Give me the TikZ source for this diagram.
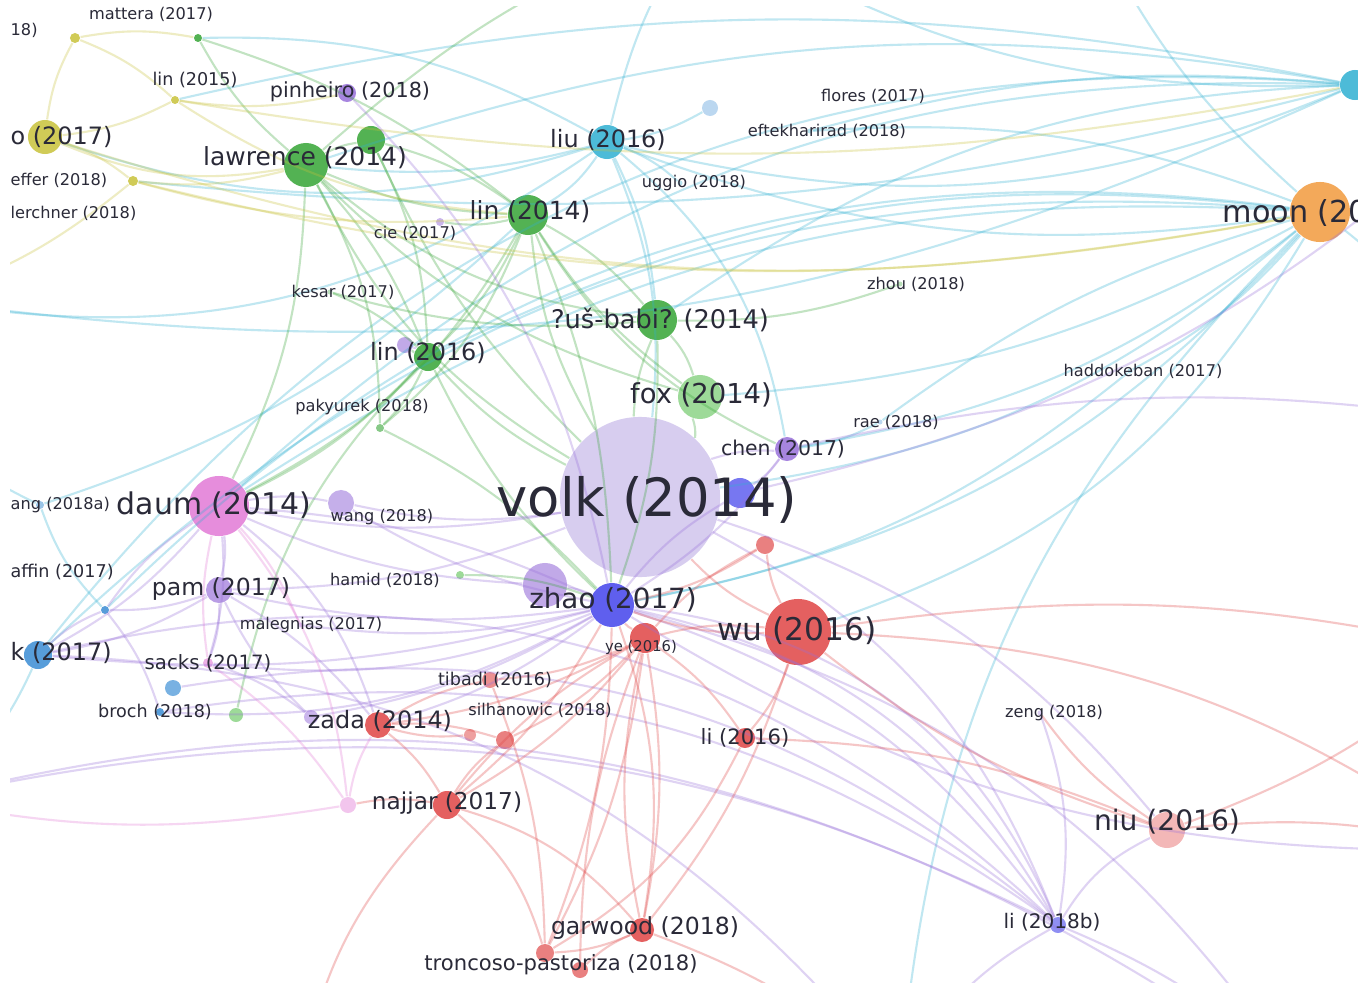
\documentclass[tikz,border=0pt]{standalone}
\usepackage{fontspec}
\setmainfont{DejaVu Sans}
\usepackage{xcolor}
\definecolor{clgreen}{HTML}{36A536}
\definecolor{cllgreen}{HTML}{8CD486}
\definecolor{clcyan}{HTML}{2FB0D2}
\definecolor{clpurple}{HTML}{9870DA}
\definecolor{cllav}{HTML}{C8BAEA}
\definecolor{clblue}{HTML}{4444EC}
\definecolor{clred}{HTML}{E04545}
\definecolor{clpink}{HTML}{E27AD6}
\definecolor{clyellow}{HTML}{C8C23A}
\definecolor{clorange}{HTML}{F29A3E}
\definecolor{clsky}{HTML}{3A8DD4}
\definecolor{txt}{HTML}{2A2A38}
\tikzset{
  dot/.style={circle, inner sep=0pt, fill=#1, fill opacity=0.85},
  lbl/.style={inner sep=0pt, text=txt, font=\fontsize{#1}{#1}\selectfont},
  lbl/.default=4.6,
  link/.style={#1, line width=0.6pt, opacity=0.3},
}

\begin{document}
\begin{tikzpicture}[x=0.01cm, y=-0.01cm]
\useasboundingbox (0,0) rectangle (1358,982);
\fill[white] (0,0) rectangle (1358,982);
\clip (10,7) rectangle (1358,982);

% ===== papers (circles) =====
\node[dot=cllav, minimum size=16mm, fill opacity=0.72] (volk) at (640,497) {};
\node[dot=clpurple!70, minimum size=4.4mm] (zhaop) at (545,585) {};
\node[dot=clblue, minimum size=4.4mm] (zhao) at (612,605) {};
\node[dot=clblue!85, minimum size=3mm] (chenb) at (740,493) {};
\node[dot=clred!80, minimum size=1.8mm] (reda) at (765,545) {};
\node[dot=clred, minimum size=3mm] (ye) at (645,638) {};
\node[dot=clred, minimum size=6.6mm] (wu) at (798,632) {};
\node[dot=clpink, minimum size=6mm] (daum) at (219,506) {};
\node[dot=clpurple!65, minimum size=2.6mm] (wang) at (341,503) {};
\node[dot=clpurple, minimum size=2.4mm] (chen) at (787,449) {};
\node[dot=cllgreen, minimum size=4.4mm] (fox) at (700,397) {};
\node[dot=clgreen, minimum size=4mm] (babic) at (657,320) {};
\node[dot=clgreen, minimum size=4mm] (linb) at (528,215) {};
\node[dot=clcyan, minimum size=3.4mm] (liu) at (607,142) {};
\node[dot=clgreen, minimum size=4.4mm] (lawrence) at (306,165) {};
\node[dot=clgreen, minimum size=2.8mm] (greenb) at (371,140) {};
\node[dot=clpurple, minimum size=1.8mm] (pinheiro) at (347,93) {};
\node[dot=clyellow, minimum size=0.8mm] (linc) at (175,100) {};
\node[dot=clgreen, minimum size=0.8mm] (mattera) at (198,38) {};
\node[dot=clyellow, minimum size=1mm] (yelt) at (75,38) {};
\node[dot=clyellow, minimum size=3.4mm] (ofive) at (45,137) {};
\node[dot=clyellow, minimum size=1mm] (effer) at (133,181) {};
\node[dot=clpurple!60, minimum size=0.8mm] (cie) at (440,222) {};
\node[dot=clsky!40, minimum size=1.6mm] (flores) at (710,108) {};
\node[dot=clgreen, minimum size=2.8mm] (lind) at (428,357) {};
\node[dot=clpurple!70, minimum size=1.6mm] (purl) at (405,345) {};
\node[dot=clgreen!70, minimum size=0.8mm] (pakyurek) at (380,428) {};
\node[dot=clpurple!80, minimum size=2.6mm] (pam) at (219,590) {};
\node[dot=cllgreen, minimum size=0.8mm] (hamid) at (460,575) {};
\node[dot=clsky, minimum size=2.8mm] (kseven) at (38,655) {};
\node[dot=clsky, minimum size=0.8mm] (hubl) at (105,610) {};
\node[dot=clpink!70, minimum size=1mm] (sacks) at (208,663) {};
\node[dot=clsky!80, minimum size=1.6mm] (sacksb) at (173,688) {};
\node[dot=clsky, minimum size=0.8mm] (broch) at (160,712) {};
\node[dot=cllgreen, minimum size=1.4mm] (brochg) at (236,715) {};
\node[dot=clred, minimum size=2.6mm] (zada) at (378,725) {};
\node[dot=clpurple!60, minimum size=1.4mm] (zadap) at (311,717) {};
\node[dot=clred!70, minimum size=1.6mm] (tibadi) at (490,680) {};
\node[dot=clred!80, minimum size=1.8mm] (silh) at (505,740) {};
\node[dot=clred!60, minimum size=1.2mm] (silhb) at (470,735) {};
\node[dot=clred, minimum size=2mm] (lis) at (745,738) {};
\node[dot=clred, minimum size=2.8mm] (najjar) at (447,805) {};
\node[dot=clpink!50, minimum size=1.6mm] (najjarp) at (348,805) {};
\node[dot=clred, minimum size=2.4mm] (garwood) at (642,930) {};
\node[dot=clred!80, minimum size=1.8mm] (troncoso) at (545,953) {};
\node[dot=clred!80, minimum size=1.6mm] (troncosob) at (580,970) {};
\node[dot=clred!45, minimum size=3.6mm] (niu) at (1167,830) {};
\node[dot=clblue!70, minimum size=1.6mm] (lib) at (1058,925) {};
\node[dot=clorange, minimum size=6mm] (moon) at (1320,212) {};
\node[dot=clcyan, minimum size=3mm] (cyanr) at (1355,85) {};
\node[dot=clsky!60, minimum size=0.8mm] (angn) at (40,505) {};
\node[dot=clpurple!40, minimum size=0.5mm] (zeng) at (1040,713) {};
\node[dot=clgreen!40, minimum size=0.5mm] (zhou) at (900,284) {};
\node[dot=clsky!40, minimum size=0.5mm] (rae) at (880,422) {};
\node[dot=clcyan!40, minimum size=0.5mm] (hadz) at (1130,371) {};
\node[dot=clcyan!40, minimum size=0.5mm] (uggio) at (680,183) {};
\node[dot=clcyan!40, minimum size=0.5mm] (eftek) at (810,131) {};
\node[dot=clgreen!40, minimum size=0.5mm] (kesar) at (330,292) {};
\node[dot=clpurple!40, minimum size=0.5mm] (malag) at (300,625) {};

% off-picture ends
\coordinate (etl) at (150,-60);
\coordinate (et) at (700,-80);
\coordinate (etr) at (1100,-60);
\coordinate (er1) at (1480,120);
\coordinate (er2) at (1480,420);
\coordinate (er3) at (1480,650);
\coordinate (er4) at (1480,850);
\coordinate (ebr) at (1300,1080);
\coordinate (eb) at (900,1080);
\coordinate (ebl) at (300,1080);
\coordinate (el1) at (-80,300);
\coordinate (el2) at (-80,800);
\coordinate (el3) at (-80,420);

% ===== cyan =====
\foreach \a/\b/\c in {liu/moon/-14, liu/cyanr/-18, liu/linb/12, liu/volk/14, liu/babic/10,
  liu/ofive/18, liu/lawrence/10, liu/mattera/-15, liu/flores/-10, liu/el1/22, liu/et/10,
  liu/chen/20, liu/uggio/10, cyanr/el1/16, cyanr/daum/-22, cyanr/kseven/-28, cyanr/lawrence/-14,
  cyanr/linc/-12, cyanr/et/16, cyanr/eftek/-10, moon/volk/16, moon/zhao/18, moon/chen/14,
  moon/fox/12, moon/lind/-16, moon/eb/-20, moon/kseven/-24, moon/etr/10, moon/er2/16,
  moon/hubl/-26, moon/daum/-18, moon/eftek/-12, moon/hadz/10, moon/rae/-10, kseven/el2/16,
  hubl/angn/12, angn/el3/10, hadz/zhao/14, rae/chen/10, cyanr/babic/-16, moon/wu/20,
  angn/linb/-12, effer/cyanr/-10}
  { \draw[link=clcyan] (\a) to[bend left=\c] (\b); }

% ===== green =====
\foreach \a/\b/\c in {lawrence/linb/-10, lawrence/greenb/10, lawrence/lind/10, lawrence/pakyurek/14,
  lawrence/babic/-16, lawrence/fox/-14, lawrence/volk/-16, lawrence/et/10, lawrence/mattera/10,
  linb/babic/10, linb/fox/-10, linb/lind/10, linb/volk/-12, linb/pakyurek/14, linb/chen/-16,
  linb/zhao/10, linb/daum/16, linb/greenb/-10, linb/cie/10, greenb/lind/12, greenb/volk/-10,
  babic/fox/12, babic/volk/-10, babic/zhao/10, lind/pakyurek/10, lind/volk/-10, lind/daum/10,
  lind/zhao/-10, lind/purl/10, fox/volk/12, mattera/linb/10, babic/kesar/10, hamid/zhao/10,
  brochg/lind/16, pakyurek/zhao/10, zhou/babic/10, kesar/lind/10, lawrence/daum/12}
  { \draw[link=clgreen] (\a) to[bend left=\c] (\b); }

% ===== yellow =====
\foreach \a/\b/\c in {ofive/linc/-10, ofive/effer/10, ofive/yelt/10, linc/pinheiro/-10,
  linc/linb/-14, effer/lawrence/-10, effer/linb/-10, yelt/linc/10, ofive/lawrence/-16,
  yelt/mattera/10, ofive/moon/-14, effer/moon/-12, linc/cyanr/-10, effer/el1/10}
  { \draw[link=clyellow] (\a) to[bend left=\c] (\b); }

% ===== purple / blue =====
\foreach \a/\b/\c in {zhao/daum/-10, zhao/pam/10, zhao/wang/10, zhao/zada/10, zhao/sacks/14,
  zhao/lib/24, zhao/chen/-10, zhao/chenb/10, zhao/broch/16, zhao/malag/10, zhao/kseven/10,
  zhao/pinheiro/-16, zhao/ebr/20, zhao/zadap/10, volk/daum/10, volk/wang/10, volk/pam/10,
  volk/chen/10, volk/lib/20, volk/niu/16, daum/pam/10, daum/wang/10, daum/sacks/10,
  daum/kseven/10, daum/zada/16, pam/sacks/10, pam/zada/10, pam/kseven/10, pam/hubl/10,
  lib/niu/16, lib/zeng/-14, lib/ebr/10, lib/eb/-16, chen/chenb/10, chen/er2/10, kseven/hubl/10,
  hubl/daum/10, hubl/broch/10, zhaop/daum/10, zhaop/zhao/10, purl/lind/10, zadap/pam/10,
  sacks/zadap/10, kseven/lib/28, sacksb/lib/24, broch/lib/22, el2/ebr/24, el2/lib/20,
  kseven/eb/24, chenb/er1/-14, zhao/er4/-16, zhao/lib/30, zhao/lib/18}
  { \draw[link=clpurple] (\a) to[bend left=\c] (\b); }

% ===== red =====
\foreach \a/\b/\c in {ye/zhao/10, ye/wu/10, ye/lis/10, ye/najjar/10, ye/garwood/10, ye/troncoso/10,
  ye/tibadi/10, ye/silh/10, ye/zada/10, ye/reda/10, wu/zhao/10, wu/volk/10, wu/niu/-10, wu/lis/10,
  wu/garwood/10, wu/reda/10, wu/er3/10, zada/najjar/10, zada/tibadi/10, zada/silh/10,
  najjar/garwood/16, najjar/troncoso/16, najjar/silh/10, garwood/troncoso/10,
  troncoso/tibadi/-10, troncoso/lis/-16, niu/er3/-10, niu/zeng/10, zhao/najjar/10,
  zhao/troncoso/10, najjarp/najjar/10, troncosob/garwood/10, troncosob/ye/10, silhb/zada/10,
  reda/zhao/10, wu/er4/16, niu/er4/10, ebl/najjar/16, garwood/eb/10, lis/niu/10,
  ye/najjar/-10, ye/garwood/-12, zhao/garwood/14}
  { \draw[link=clred] (\a) to[bend left=\c] (\b); }

% ===== pink =====
\foreach \a/\b/\c in {daum/sacks/-10, daum/najjarp/16, najjarp/zada/10, sacks/najjarp/10,
  daum/malag/10, el2/najjarp/-10}
  { \draw[link=clpink] (\a) to[bend left=\c] (\b); }

% ===== labels =====
\node[lbl=15] (volk-l) at (647,500) {volk (2014)};
\node[lbl=7.9] (zhao-l) at (613,600) {zhao (2017)};
\node[lbl=8.9] (wu-l) at (797,631) {wu (2016)};
\node[lbl=8.5] (daum-l) at (214,505) {daum (2014)};
\node[lbl=7.1] (lawrence-l) at (305,158) {lawrence (2014)};
\node[lbl=7.1] (linb-l) at (530,212) {lin (2014)};
\node[lbl=6.8] (liu-l) at (608,140) {liu (2016)};
\node[lbl=7.3] (babic-l) at (660,320) {?uš-babi? (2014)};
\node[lbl=7.8] (fox-l) at (701,395) {fox (2014)};
\node[lbl=5.8] (chen-l) at (783,449) {chen (2017)};
\node[lbl=5.9] (pinheiro-l) at (350,92) {pinheiro (2018)};
\node[lbl=5] (linc-l) at (195,80) {lin (2015)};
\node[lbl=4.6] (mattera-l) at (151,14) {mattera (2017)};
\node[lbl=6.8] (lind-l) at (428,353) {lin (2016)};
\node[lbl=6.7] (pam-l) at (221,589) {pam (2017)};
\node[lbl=5.6] (sacks-l) at (208,663) {sacks (2017)};
\node[lbl=6.8] (zada-l) at (380,721) {zada (2014)};
\node[lbl=6.6] (najjar-l) at (447,803) {najjar (2017)};
\node[lbl=6.7] (garwood-l) at (645,928) {garwood (2018)};
\node[lbl=6] (troncoso-l) at (561,965) {troncoso-pastoriza (2018)};
\node[lbl=8] (niu-l) at (1167,822) {niu (2016)};
\node[lbl=5.7] (lib-l) at (1052,922) {li (2018b)};
\node[lbl=6] (lis-l) at (745,738) {li (2016)};
\node[lbl=8.6, anchor=west] (moon-l) at (1222,213) {moon (2016)};
\node[lbl=6.8, anchor=west] (ofive-l) at (10,137) {o (2017)};
\node[lbl=6.8, anchor=west] (kseven-l) at (10,653) {k (2017)};
\node[lbl=4.6, anchor=west] (left-l) at (10,30) {18)};
\node[lbl=4.6, anchor=west] (effer-l) at (10,180) {effer (2018)};
\node[lbl=4.6, anchor=west] (kirchner-l) at (10,213) {lerchner (2018)};
\node[lbl=4.6, anchor=west] (ang-l) at (10,505) {ang (2018a)};
\node[lbl=5, anchor=west] (affin-l) at (10,572) {affin (2017)};
\node[lbl] (flores-l) at (873,96) {flores (2017)};
\node[lbl] (eftek-l) at (827,131) {eftekharirad (2018)};
\node[lbl] (uggio-l) at (694,183) {uggio (2018)};
\node[lbl] (cie-l) at (415,233) {cie (2017)};
\node[lbl] (zhou-l) at (916,284) {zhou (2018)};
\node[lbl] (kesar-l) at (343,292) {kesar (2017)};
\node[lbl] (pakyurek-l) at (362,407) {pakyurek (2018)};
\node[lbl] (hadz-l) at (1143,371) {haddokeban (2017)};
\node[lbl] (rae-l) at (896,422) {rae (2018)};
\node[lbl] (wang-l) at (382,517) {wang (2018)};
\node[lbl] (hamid-l) at (385,580) {hamid (2018)};
\node[lbl] (malag-l) at (311,625) {malegnias (2017)};
\node[lbl=5] (tibadi-l) at (495,680) {tibadi (2016)};
\node[lbl] (silh-l) at (540,710) {silhanowic (2018)};
\node[lbl=4.2] (ye-l) at (641,647) {ye (2016)};
\node[lbl=5] (broch-l) at (155,712) {broch (2018)};
\node[lbl] (zeng-l) at (1054,713) {zeng (2018)};
\end{tikzpicture}
\end{document}
